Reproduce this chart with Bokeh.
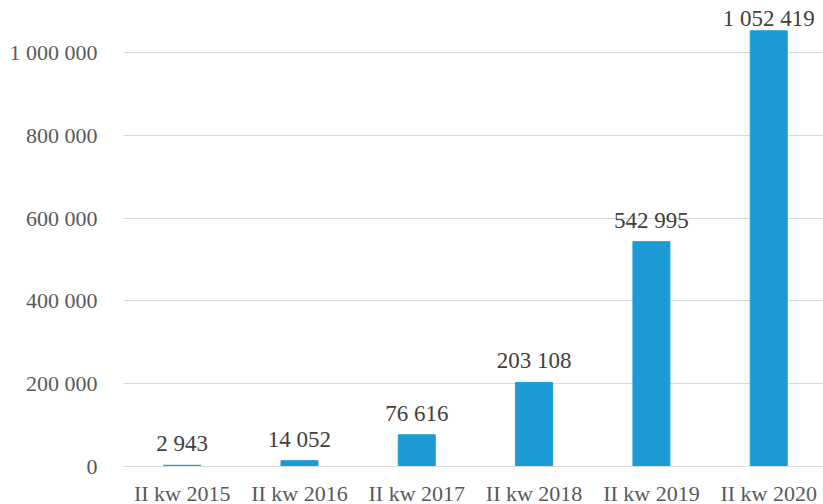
from bokeh.plotting import figure
from bokeh.models import Range1d, ColumnDataSource, FixedTicker, LabelSet
from bokeh.embed import file_html
from bokeh.resources import INLINE

categories = ["II kw 2015", "II kw 2016", "II kw 2017", "II kw 2018", "II kw 2019", "II kw 2020"]
values = [2943, 14052, 76616, 203108, 542995, 1052419]
y_ticks = [0, 200000, 400000, 600000, 800000, 1000000]

def fmt(v):
    return f"{v:,}".replace(",", " ")

xs = [i + 0.5 for i in range(len(categories))]
# labels that would run off the top edge sit right on their bar (as in the original)
offsets = [9 if v < 1000000 else 0 for v in values]
src = ColumnDataSource(dict(x=xs, top=values, label=[fmt(v) for v in values], off=offsets))

p = figure(width=823, height=504, output_backend="svg", toolbar_location=None,
           x_range=Range1d(0, 5.967), y_range=Range1d(0, 1125600),
           min_border_left=123, min_border_top=0, min_border_right=0, min_border_bottom=0,
           frame_width=700, frame_height=466)
p.outline_line_color = None
p.background_fill_color = "white"
p.border_fill_color = "white"

p.vbar(x="x", top="top", width=0.315, source=src, color="#1b9ad6")

labels = LabelSet(x="x", y="top", text="label", source=src, text_align="center",
                  text_baseline="bottom", y_offset="off", text_font="Liberation Serif",
                  text_font_size="23px", text_color="#404040")
p.add_layout(labels)

p.xgrid.grid_line_color = None
p.ygrid.grid_line_color = "#d9d9d9"
p.ygrid.grid_line_width = 1
p.ygrid.ticker = FixedTicker(ticks=y_ticks)

p.yaxis.ticker = FixedTicker(ticks=y_ticks)
p.yaxis.major_label_overrides = {t: fmt(t) for t in y_ticks}
p.yaxis.axis_line_color = None
p.yaxis.major_tick_line_color = None
p.yaxis.minor_tick_line_color = None
p.yaxis.major_label_standoff = 20
p.yaxis.major_label_text_font = "Liberation Serif"
p.yaxis.major_label_text_font_size = "22px"
p.yaxis.major_label_text_color = "#595959"

p.xaxis.ticker = FixedTicker(ticks=xs)
p.xaxis.major_label_overrides = {x: c for x, c in zip(xs, categories)}
p.xaxis.axis_line_color = "#d9d9d9"
p.xaxis.major_tick_line_color = None
p.xaxis.minor_tick_line_color = None
p.xaxis.major_label_standoff = 8
p.xaxis.major_label_text_font = "Liberation Serif"
p.xaxis.major_label_text_font_size = "22px"
p.xaxis.major_label_text_color = "#595959"

open("out.html", "w").write(file_html(p, INLINE))
